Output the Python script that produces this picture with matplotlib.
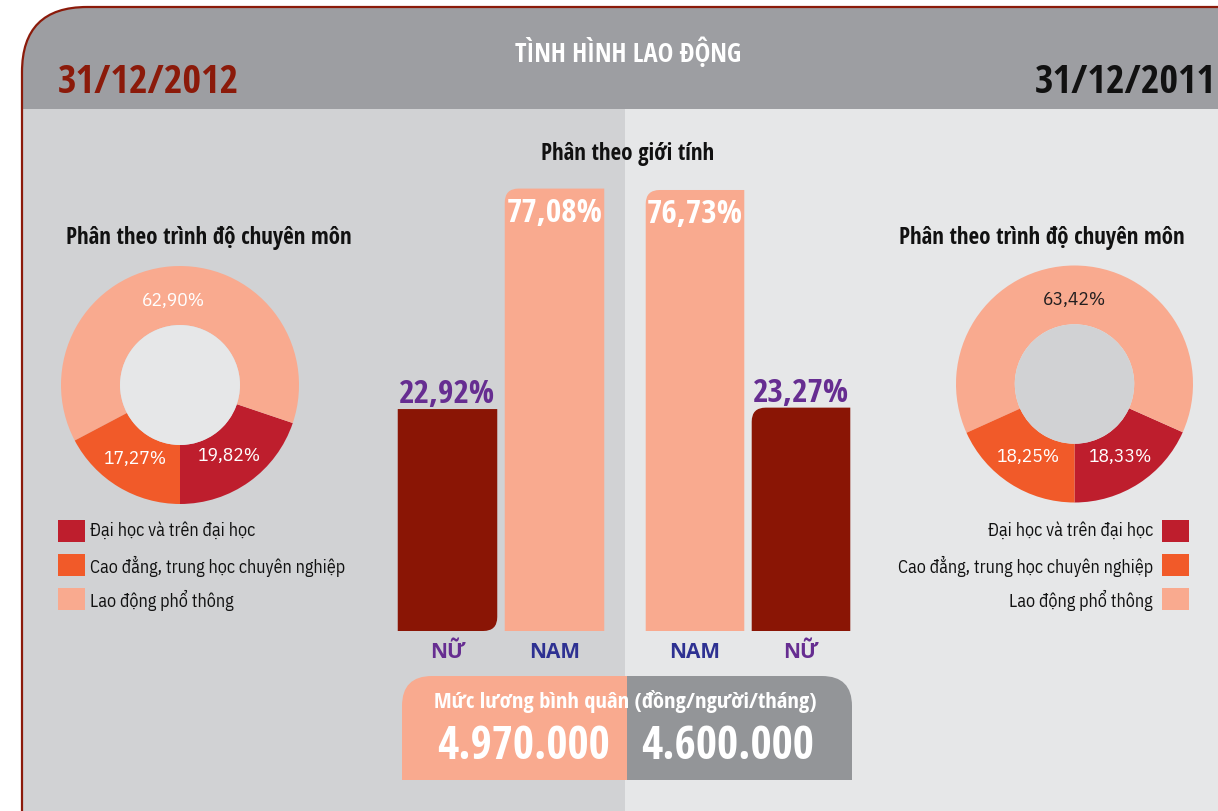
import numpy as np
import matplotlib
matplotlib.use("Agg")
import matplotlib.pyplot as plt
from matplotlib.patches import Rectangle, FancyBboxPatch, PathPatch, Circle
from matplotlib.path import Path
from matplotlib.transforms import IdentityTransform

# dữ liệu
LEVELS = ["Đại học và trên đại học", "Cao đẳng, trung học chuyên nghiệp", "Lao động phổ thông"]
LEVEL_2012 = [19.82, 17.27, 62.90]
LEVEL_2011 = [18.33, 18.25, 63.42]

GENDER_2012 = ["NỮ", "NAM"]
SHARE_2012 = [22.92, 77.08]
GENDER_2011 = ["NAM", "NỮ"]
SHARE_2011 = [76.73, 23.27]

SALARY = ["4.970.000", "4.600.000"]
YEARS = ["31/12/2012", "31/12/2011"]

# màu
FRAME = "#8B1A0A"
HEADER = "#9D9EA2"
LEFT_BG = "#D1D2D4"
RIGHT_BG = "#E6E7E8"
LEVEL_COLORS = ["#BE1E2D", "#F15A29", "#F9AA8F"]
GENDER_COLORS = {"NỮ": "#8A1505", "NAM": "#F9AA8F"}
TICK_COLORS = {"NỮ": "#662D91", "NAM": "#2E3192"}
PURPLE = "#662D91"
SAL_COLORS = ["#F9AA8F", "#939598"]

BOLD = ["Open Sans Condensed", "DejaVu Sans"]
REG = ["IBM Plex Sans Condensed", "DejaVu Sans"]
WIDE = ["Open Sans", "DejaVu Sans"]

BAR_BASE = -31.6  # đáy trục cột như bản gốc (không bắt đầu từ 0)
PIE_ORDER = [0, 2, 1]  # thứ tự vẽ ngược chiều kim đồng hồ từ đáy

W, H = 1218, 812
fig = plt.figure(figsize=(W / 100, H / 100), dpi=100)
fig.patch.set_facecolor("white")

bg = fig.add_axes([0, 0, 1, 1])
bg.set_xlim(0, W)
bg.set_ylim(H, 0)
bg.axis("off")


def px_axes(x0, y0, x1, y1):
    return fig.add_axes([x0 / W, 1 - y1 / H, (x1 - x0) / W, (y1 - y0) / H])


def one_round_rect(x0, y0, x1, y1, corner, r):
    pts = np.array([[x0, y0], [x1, y0], [x1, y1], [x0, y1]], float)
    verts, codes = [], []
    for i, p in enumerate(pts):
        if i == corner:
            d1 = pts[i - 1] - p
            d2 = pts[(i + 1) % 4] - p
            a = p + r * d1 / np.linalg.norm(d1)
            b = p + r * d2 / np.linalg.norm(d2)
            verts += [a, p, b]
            codes += [Path.LINETO, Path.CURVE3, Path.CURVE3]
        else:
            verts.append(p)
            codes.append(Path.LINETO)
    codes[0] = Path.MOVETO
    verts.append(verts[0])
    codes.append(Path.CLOSEPOLY)
    return Path(verts, codes)


# khung nền
bg.add_patch(FancyBboxPatch((22, 8), 1500, 1000, boxstyle="round,pad=0,rounding_size=65",
                            fc=HEADER, ec="none"))
bg.add_patch(Rectangle((23, 110), 602, 720, fc=LEFT_BG, ec="none"))
bg.add_patch(Rectangle((625, 110), 620, 720, fc=RIGHT_BG, ec="none"))
bg.add_patch(FancyBboxPatch((22, 8), 1500, 1000, boxstyle="round,pad=0,rounding_size=65",
                            fc="none", ec=FRAME, lw=1.6))

bg.text(628, 53, "TÌNH HÌNH LAO ĐỘNG", color="white", family=BOLD, weight="bold",
        fontsize=19, ha="center", va="center")
bg.text(58, 83, YEARS[0], color=FRAME, family=BOLD, weight="bold", fontsize=29,
        ha="left", va="center")
bg.text(1216, 83, YEARS[1], color="#111111", family=BOLD, weight="bold", fontsize=29,
        ha="right", va="center")


# bánh donut
def donut(rect, values, inner_color, label_colors, title_x, legend_left):
    ax = px_axes(*rect)
    vals = [values[i] for i in PIE_ORDER]
    cols = [LEVEL_COLORS[i] for i in PIE_ORDER]
    lcols = [label_colors[i] for i in PIE_ORDER]
    wedges, _, autotexts = ax.pie(vals, colors=cols, startangle=-90,
                                  counterclock=True, autopct="%1.0f", pctdistance=0.72,
                                  wedgeprops=dict(width=0.496, linewidth=0))
    for t, v, c in zip(autotexts, vals, lcols):
        t.set_text(f"{v:.2f}%".replace(".", ","))
        t.set_color(c)
        t.set_family(REG)
        t.set_fontsize(14)
    ax.add_patch(Circle((0, 0), 0.504, fc=inner_color, ec="none"))
    ax.set_xlim(-1, 1)
    ax.set_ylim(-1, 1)

    bg.text(title_x, 238, "Phân theo trình độ chuyên môn", family=BOLD, weight="bold",
            fontsize=16.5, ha="center", va="center", color="#111111")
    ys = [532, 566, 600]
    for lab, col, y in zip(LEVELS, LEVEL_COLORS, ys):
        if legend_left:
            bg.add_patch(Rectangle((58, y - 11), 27, 22, fc=col, ec="none"))
            bg.text(90, y, lab, family=REG, fontsize=13, ha="left", va="center",
                    color="#111111")
        else:
            bg.add_patch(Rectangle((1162, y - 11), 27, 22, fc=col, ec="none"))
            bg.text(1153, y, lab, family=REG, fontsize=13, ha="right", va="center",
                    color="#111111")


donut((61, 267, 299, 505), LEVEL_2012, RIGHT_BG, ["white", "white", "white"], 209, True)
donut((956, 266, 1193, 504), LEVEL_2011, LEFT_BG, ["white", "white", "#231F20"], 1042, False)

# biểu đồ cột giới tính
bg.text(628, 154, "Phân theo giới tính", family=BOLD, weight="bold", fontsize=16.5,
        ha="center", va="center", color="#111111")


def gender_bars(rect, genders, shares, corners):
    ax = px_axes(*rect)
    ax.set_facecolor("none")
    x = np.arange(len(genders))
    vals = np.array(shares)
    bars = ax.bar(x, vals - BAR_BASE, bottom=BAR_BASE, width=0.93,
                  color=[GENDER_COLORS[g] for g in genders])
    ax.set_xlim(-0.5, 1.5)
    ax.set_ylim(BAR_BASE, 86.8)
    for s in ax.spines.values():
        s.set_visible(False)
    ax.set_yticks([])
    ax.set_xticks(x, labels=genders)
    ax.tick_params(axis="x", length=0, pad=7)
    for tl, g in zip(ax.get_xticklabels(), genders):
        tl.set_color(TICK_COLORS[g])
        tl.set_family(WIDE)
        tl.set_weight("bold")
        tl.set_fontsize(15)
    for bar, g, v, c in zip(bars, genders, vals, corners):
        x0, y0, x1, y1 = bar.get_window_extent().extents
        path = one_round_rect(x0, y0, x1, y1, c, 14)
        ax.add_patch(PathPatch(path, transform=IdentityTransform(), fc=bar.get_facecolor(),
                               ec="none", clip_on=False))
        bar.set_visible(False)
        txt = f"{v:.2f}%".replace(".", ",")
        xc = bar.get_x() + bar.get_width() / 2
        if g == "NỮ":
            ax.annotate(txt, (xc, v), xytext=(0, 5), textcoords="offset points",
                        ha="center", va="baseline", color=PURPLE, family=BOLD,
                        weight="bold", fontsize=24)
        else:
            ax.annotate(txt, (xc, v), xytext=(0, -5), textcoords="offset points",
                        ha="center", va="top", color="white", family=BOLD,
                        weight="bold", fontsize=24)


gender_bars((394, 150, 608, 632), GENDER_2012, SHARE_2012, [1, 3])
gender_bars((642, 150, 854, 632), GENDER_2011, SHARE_2011, [3, 3])

# mức lương
bg.add_patch(PathPatch(one_round_rect(402, 677, 627, 781, 0, 30), fc=SAL_COLORS[0], ec="none"))
bg.add_patch(PathPatch(one_round_rect(627, 677, 852, 781, 1, 30), fc=SAL_COLORS[1], ec="none"))
bg.text(625, 702, "Mức lương bình quân (đồng/người/tháng)", color="white", family=BOLD,
        weight="bold", fontsize=16.2, ha="center", va="center")
bg.text(524, 747, SALARY[0], color="white", family=BOLD, weight="bold", fontsize=33,
        ha="center", va="center")
bg.text(728, 747, SALARY[1], color="white", family=BOLD, weight="bold", fontsize=33,
        ha="center", va="center")

fig.savefig("out.png", dpi=100)
